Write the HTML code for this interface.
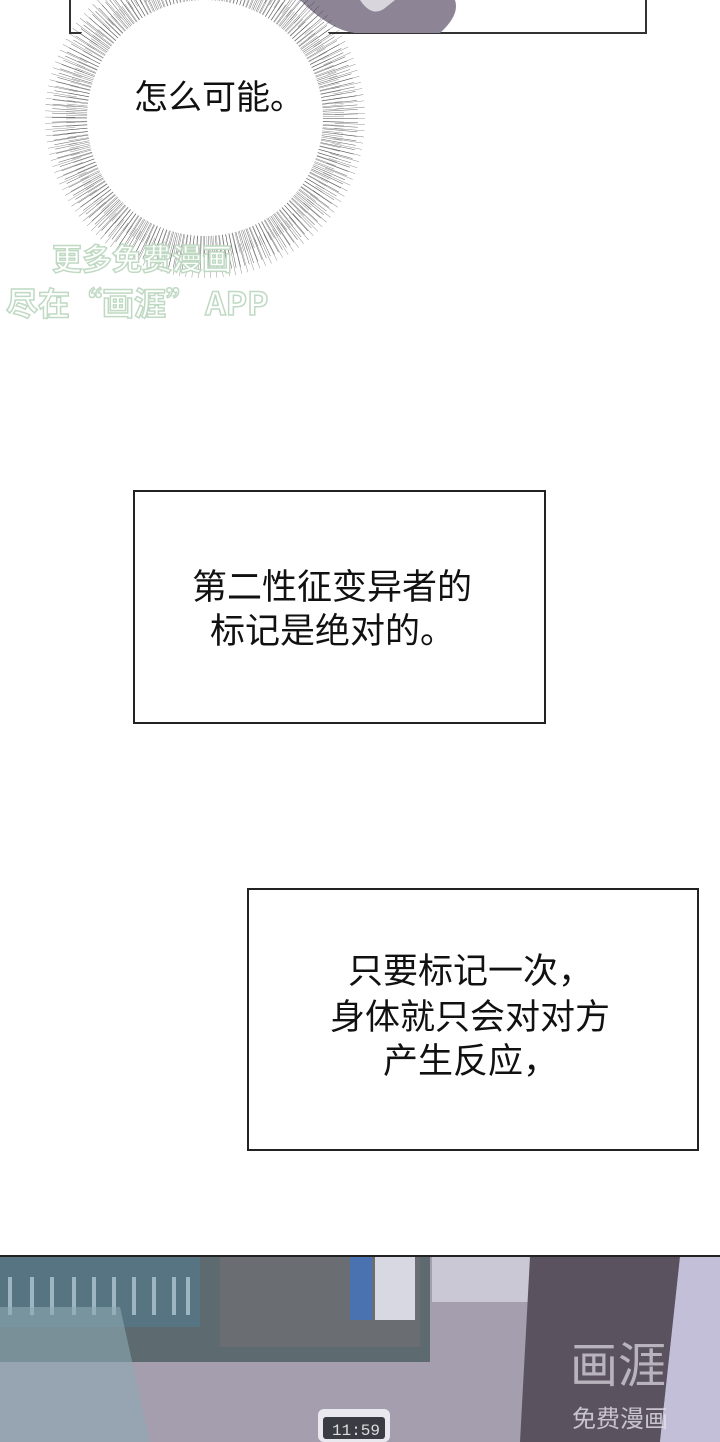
<!DOCTYPE html>
<html><head><meta charset="utf-8"><style>
body{margin:0;width:720px;height:1440px;background:#fff;position:relative;overflow:hidden;font-family:"Liberation Sans","Noto Sans CJK SC",sans-serif}
.box{position:absolute;border:2px solid #222;background:#fff;box-sizing:border-box}
.t{position:absolute;font-size:35px;color:#111;line-height:44px;white-space:nowrap}
</style></head><body>
<div class="box" style="left:69px;top:-10px;width:578px;height:44px;border-color:#333"></div>
<svg style="position:absolute;left:0;top:0" width="720" height="340">
<path d="M300 0 Q330 30 355 33 L440 33 Q460 15 455 0Z" fill="#8d8596"/>
<path d="M360 0 Q372 18 385 8 L395 0Z" fill="#d9d5dc"/>
<circle cx="205" cy="118" r="150" fill="#fff"/>
<circle cx="205" cy="118" r="135" fill="none" stroke="#222" stroke-width="36" stroke-dasharray="0.5 3.5" opacity="0.7"/>
<circle cx="205" cy="118" r="145" fill="none" stroke="#222" stroke-width="30" stroke-dasharray="0.4 5.3" opacity="0.6"/>
<circle cx="205" cy="118" r="127" fill="none" stroke="#222" stroke-width="24" stroke-dasharray="0.5 2.9" opacity="0.5"/>
<circle cx="205" cy="118" r="118" fill="#fff"/>
<text x="52" y="270" font-size="30" font-weight="bold" fill="#fff" stroke="#bfd9c3" stroke-width="1.5" font-family="Noto Sans CJK SC">更多免费漫画</text>
<text x="6" y="315" font-size="32" font-weight="bold" fill="#fff" stroke="#bfd9c3" stroke-width="1.5" font-family="Noto Sans CJK SC">尽在“画涯” APP</text>
</svg>
<div class="t" style="left:134px;top:76px;font-size:34px">怎么可能。</div>
<div class="box" style="left:133px;top:490px;width:413px;height:234px"></div>
<div class="t" style="left:192px;top:566px">第二性征变异者的</div>
<div class="t" style="left:210px;top:610px">标记是绝对的。</div>
<div class="box" style="left:247px;top:888px;width:452px;height:263px"></div>
<div class="t" style="left:348px;top:950px">只要标记一次，</div>
<div class="t" style="left:330px;top:996px">身体就只会对对方</div>
<div class="t" style="left:383px;top:1040px">产生反应，</div>
<div style="position:absolute;left:0;top:1255px;width:720px;height:185px;background:#9d96a8;border-top:2px solid #222;overflow:hidden">
<svg width="720" height="185">
<rect x="0" y="0" width="720" height="185" fill="#a49eae"/>
<rect x="0" y="0" width="430" height="105" fill="#5d6a70"/>
<rect x="0" y="0" width="200" height="70" fill="#567482"/>
<g fill="#9db6c2"><rect x="8" y="20" width="4" height="38"/><rect x="30" y="20" width="4" height="38"/><rect x="50" y="20" width="4" height="38"/><rect x="72" y="20" width="4" height="38"/><rect x="92" y="20" width="4" height="38"/><rect x="112" y="20" width="4" height="38"/><rect x="132" y="20" width="4" height="38"/><rect x="152" y="20" width="4" height="38"/><rect x="172" y="20" width="4" height="38"/><rect x="186" y="20" width="4" height="38"/></g>
<rect x="220" y="0" width="200" height="90" fill="#6a6e72"/>
<rect x="350" y="0" width="22" height="63" fill="#4a72b0"/>
<rect x="375" y="0" width="40" height="63" fill="#d8d8e2"/>
<rect x="432" y="0" width="110" height="45" fill="#c9c8d4"/>
<path d="M530 0 L680 0 L660 185 L520 185Z" fill="#5a525e"/>
<path d="M680 0 L720 0 L720 185 L660 185Z" fill="#c4bfd8"/>
<path d="M0 50 L120 50 L150 185 L0 185Z" fill="#8eaab2" opacity="0.6"/>
<rect x="318" y="152" width="72" height="33" rx="6" fill="#e8e8ee"/>
<rect x="323" y="160" width="62" height="22" rx="3" fill="#3a3c44"/>
<text x="332" y="178" font-size="16" fill="#ddd" font-family="Liberation Mono">11:59</text>
<text x="570" y="125" font-size="48" fill="#d8d4dc" opacity="0.75" font-family="Noto Sans CJK SC">画涯</text>
<text x="572" y="170" font-size="24" fill="#e4e0e8" opacity="0.8" font-family="Noto Sans CJK SC">免费漫画</text>
</svg></div>
</body></html>
